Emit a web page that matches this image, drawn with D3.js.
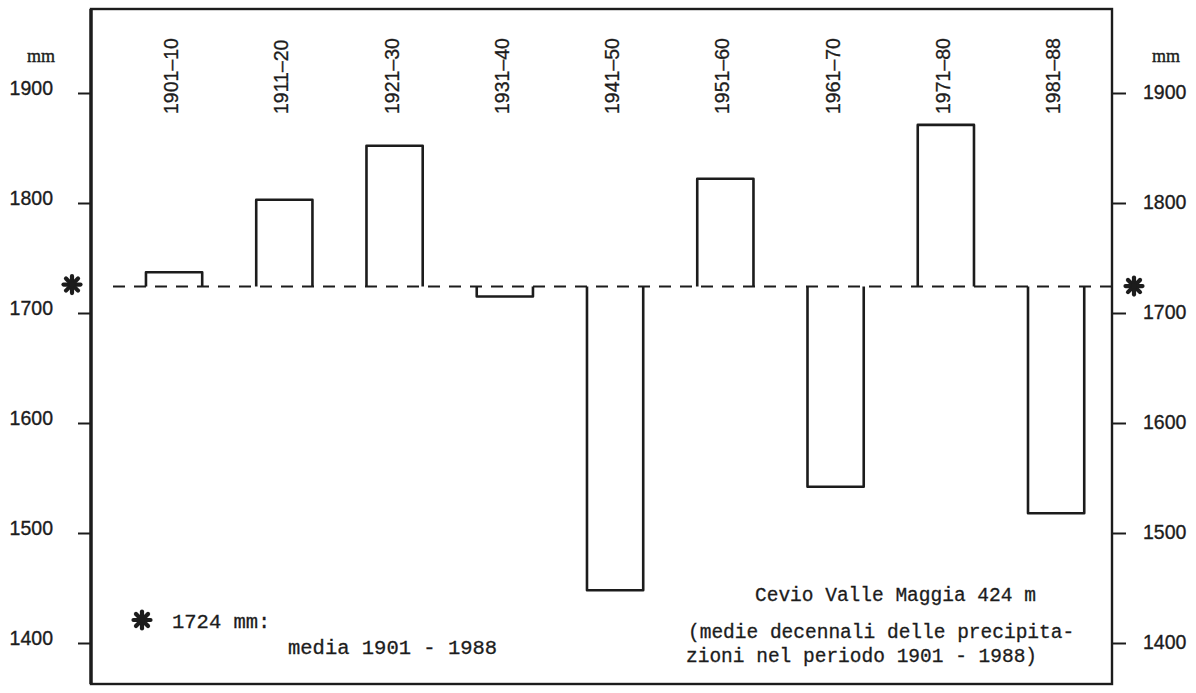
<!DOCTYPE html>
<html><head><meta charset="utf-8">
<script src="https://cdn.jsdelivr.net/npm/d3@7"></script>
<style>body{margin:0;background:#fff}</style>
</head><body>
<svg id="c" width="1196" height="693"></svg>
<script>
const categories = ["1901–10","1911–20","1921–30","1931–40","1941–50","1951–60","1961–70","1971–80","1981–88"];
const values = [1737,1803,1852,1715,1448,1822,1542,1871,1518];
const meanValue = 1724;
const yTicks = [1400,1500,1600,1700,1800,1900];
const unitLabel = "mm";
const legendLines = ["1724 mm:", "media 1901 - 1988"];
const titleLines = ["Cevio Valle Maggia 424 m", "(medie decennali delle precipita-", "zioni nel periodo 1901 - 1988)"];

const ink = "#1c1c1c";
const frame = {left: 91, top: 9, right: 1112, bottom: 684};
const svg = d3.select("#c");

const x = d3.scaleBand().domain(categories).range([118.4, 1111.8]).paddingInner(0.49).paddingOuter(0.25);
const y = d3.scaleLinear().domain([1400, 1900]).range([643, 93]);

// frame
svg.append("rect").attr("x", frame.left).attr("y", frame.top)
  .attr("width", frame.right - frame.left).attr("height", frame.bottom - frame.top)
  .attr("fill", "none").attr("stroke", ink).attr("stroke-width", 2.4);
svg.append("line").attr("x1", frame.left).attr("x2", frame.left).attr("y1", frame.top).attr("y2", frame.bottom)
  .attr("stroke", ink).attr("stroke-width", 3.4);

// axes
const tickFont = "'Liberation Sans', Arial, sans-serif";
const leftAxis = svg.append("g").attr("transform", `translate(${frame.left},0)`)
  .call(d3.axisLeft(y).tickValues(yTicks).tickSize(13).tickPadding(25).tickFormat(d3.format("d")));
const rightAxis = svg.append("g").attr("transform", `translate(${frame.right},0)`)
  .call(d3.axisRight(y).tickValues(yTicks).tickSize(14).tickPadding(17).tickFormat(d3.format("d")));
[leftAxis, rightAxis].forEach(g => {
  g.select(".domain").remove();
  g.selectAll(".tick line").attr("stroke", ink).attr("stroke-width", 2);
  g.selectAll(".tick text").attr("fill", ink).attr("stroke", ink).attr("stroke-width", 0.35)
    .style("font-family", tickFont).style("font-size", "19.5px");
});
leftAxis.selectAll(".tick text").attr("dy", "0.06em");
rightAxis.selectAll(".tick text").attr("dy", "0.3em");

// unit labels
svg.append("text").attr("x", 55).attr("y", 62).attr("text-anchor", "end")
  .style("font-family", "'Liberation Serif', serif").style("font-size", "18px")
  .attr("fill", ink).attr("stroke", ink).attr("stroke-width", 0.4).text(unitLabel);
svg.append("text").attr("x", 1152).attr("y", 62).attr("text-anchor", "start")
  .style("font-family", "'Liberation Serif', serif").style("font-size", "18px")
  .attr("fill", ink).attr("stroke", ink).attr("stroke-width", 0.4).text(unitLabel);

// mean dashed line
svg.append("line").attr("x1", 113).attr("x2", frame.right).attr("y1", y(meanValue)).attr("y2", y(meanValue))
  .attr("stroke", ink).attr("stroke-width", 2).attr("stroke-dasharray", "12,9");

// bars (open on the mean line side)
svg.append("g").selectAll("path").data(categories).join("path")
  .attr("d", (d, i) => {
    const x0 = x(d), x1 = x(d) + x.bandwidth();
    const yb = y(meanValue), yv = y(values[i]);
    return `M${x0},${yb}L${x0},${yv}L${x1},${yv}L${x1},${yb}`;
  })
  .attr("fill", "none").attr("stroke", ink).attr("stroke-width", 2.6).attr("stroke-linejoin", "round");

// category labels (rotated)
svg.append("g").selectAll("text").data(categories).join("text")
  .attr("transform", d => `translate(${x(d) + x.bandwidth() / 2 - 3},114) rotate(-90)`)
  .attr("text-anchor", "start").attr("dy", "0.36em")
  .style("font-family", tickFont).style("font-size", "19.5px")
  .attr("fill", ink).attr("stroke", ink).attr("stroke-width", 0.3)
  .text(d => d);

// asterisk marker
function asterisk(cx, cy, r) {
  const g = svg.append("g").attr("transform", `translate(${cx},${cy})`);
  [0, 45, 90, 135].forEach(a => {
    const rad = a * Math.PI / 180;
    g.append("line")
      .attr("x1", -r * Math.cos(rad)).attr("y1", -r * Math.sin(rad))
      .attr("x2", r * Math.cos(rad)).attr("y2", r * Math.sin(rad))
      .attr("stroke", ink).attr("stroke-width", 4.2).attr("stroke-linecap", "round");
  });
  g.append("circle").attr("r", 3).attr("fill", ink);
}
asterisk(72, y(meanValue) - 2, 8.5);
asterisk(1134, y(meanValue) - 0.5, 8.5);
asterisk(142, 620, 8.5);

// legend text
const mono = "'Liberation Mono', 'Courier New', monospace";
svg.append("text").attr("x", 172).attr("y", 628).style("font-family", mono).style("font-size", "20.5px")
  .attr("fill", ink).attr("stroke", ink).attr("stroke-width", 0.3).attr("xml:space", "preserve").text(legendLines[0]);
svg.append("text").attr("x", 288).attr("y", 654).style("font-family", mono).style("font-size", "20.5px")
  .attr("fill", ink).attr("stroke", ink).attr("stroke-width", 0.3).attr("xml:space", "preserve").text(legendLines[1]);

// title block
const titlePos = [[755, 601], [688, 638], [686, 662]];
titleLines.forEach((t, i) => {
  svg.append("text").attr("x", titlePos[i][0]).attr("y", titlePos[i][1])
    .style("font-family", mono).style("font-size", "19.5px")
    .attr("fill", ink).attr("stroke", ink).attr("stroke-width", 0.3).text(t);
});
</script>
</body></html>
